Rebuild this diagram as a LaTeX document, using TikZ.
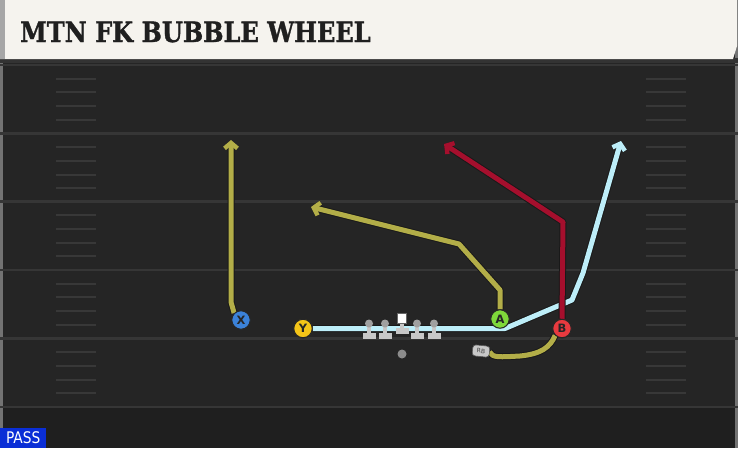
\documentclass[tikz,border=0pt]{standalone}
\usepackage{fontspec}
\setsansfont{DejaVu Sans}
\newfontfamily\titlefont{DejaVu Serif}[BoldFeatures={FakeBold=1.3}]
\usetikzlibrary{arrows.meta}
\definecolor{hdr}{HTML}{F5F3EE}
\definecolor{field}{HTML}{252525}
\definecolor{fieldlow}{HTML}{1F1F1F}
\definecolor{yardc}{HTML}{363636}
\definecolor{hashc}{HTML}{383838}
\definecolor{ryel}{HTML}{B3AE48}
\definecolor{rred}{HTML}{A50F2D}
\definecolor{rblue}{HTML}{BDEEF9}
\definecolor{pX}{HTML}{3B82D9}
\definecolor{pY}{HTML}{F5C518}
\definecolor{pA}{HTML}{7FD83A}
\definecolor{pB}{HTML}{E83A3F}
\definecolor{lineg}{HTML}{C8C8C8}
\definecolor{passb}{HTML}{0A2ED6}
\tikzset{
  yard/.style={draw=yardc, line width=2.2pt},
  hashm/.style={draw=hashc, line width=2pt},
  route/.style={line width=5pt, line join=round,
    preaction={draw=black!90, line width=7pt, line join=round}},
  tip/.style={-{Straight Barb[length=5.5pt,width=13pt,line width=4.4pt]}},
  player/.style={circle, draw=black!85, line width=1pt, minimum size=18.5pt, inner sep=0pt,
    font=\sffamily\bfseries\fontsize{11.5}{11.5}\selectfont, text=black!85},
  olm/.style={circle, fill=lineg!80!black, minimum size=8pt, inner sep=0pt},
  rbbox/.style={rounded corners=3pt, fill=lineg, draw=black!70, line width=0.5pt, minimum width=17pt, minimum height=11pt, inner sep=0pt, rotate=-6, font=\sffamily\fontsize{6}{6}\selectfont, text=black!75},
}
\begin{document}
\begin{tikzpicture}[x=1pt,y=-1pt]
\useasboundingbox (0,0) rectangle (738,448);
% field
\fill[field] (0,0) rectangle (738,448);
\fill[fieldlow] (0,407) rectangle (738,448);
\fill[black!55] (0,0) rectangle (3,448);
\fill[black!55] (735,0) rectangle (738,448);
% yard lines
\foreach \y in {65,133.5,201.5,270,338.5,407}
  \draw[yard] (0,\y) -- (738,\y);
% hash marks
\foreach \b in {65,133.5,201.5,270,338.5}{
  \foreach \k in {1,2,3,4}{
    \draw[hashm] (56,\b+13.7*\k) -- (96,\b+13.7*\k);
    \draw[hashm] (646,\b+13.7*\k) -- (686,\b+13.7*\k);
  }
}
% header
\fill[black!80] (0,58) rectangle (738,63);
\fill[hdr] (0,0) -- (737,0) -- (737,46) -- (733,59) -- (0,59) -- cycle;
\fill[black!35] (0,0) rectangle (5,59);
\node[anchor=west, inner sep=0pt, font=\titlefont\bfseries\fontsize{28}{28}\selectfont, text=black!88, xscale=0.86] (title) at (20,32) {MTN FK BUBBLE WHEEL};
% players (positions)
\node[player, fill=pX] (X) at (241,320) {X};
\node[player, fill=pY] (Y) at (303,328.5) {Y};
\node[player, fill=pA] (A) at (500,319) {A};
\node[player, fill=pB] (B) at (562,328.5) {B};
\node[rbbox] (RB) at (481,351) {RB};
\node[circle, fill=black!45, minimum size=9pt, inner sep=0pt] (QB) at (402,354) {};
% route end points
\coordinate (Xe) at (231,140);
\coordinate (Ye) at (621,141);
\coordinate (Ae) at (311,207);
\coordinate (Be) at (444,144);
% routes
\draw[route, draw=rblue, tip] (Y.east) -- (505,328.5) -- (572,300) -- (583,273) -- (Ye);
\draw[route, draw=ryel, tip] (X.north west) -- (231,302) -- (Xe);
\draw[route, draw=ryel, tip] (A.north) -- (500,290) -- (459,244) -- (Ae);
\draw[route, draw=rred, tip] (B.north) -- (563,222) -- (Be);
\draw[route, draw=ryel] (RB.east) .. controls (492,358) and (500,357) .. (520,356) .. controls (540,354) and (550,348) .. (B.south west);
% redraw players on top
\node[player, fill=pX] at (X) {X};
\node[player, fill=pY] at (Y) {Y};
\node[player, fill=pA] at (A) {A};
\node[player, fill=pB] at (B) {B};
\node[rbbox] at (RB) {RB};
% offensive line
\foreach \n/\x in {L1/369,L2/385,R1/417,R2/434}{
  \fill[lineg] (\x-2,326) rectangle (\x+2,333);
  \fill[lineg] (\x-6.5,333) rectangle (\x+6.5,338.5);
  \node[olm] (\n) at (\x,323.5) {};
}
\fill[lineg] (402-2,322) rectangle (402+2,329);
\fill[lineg] (402-6.5,328) rectangle (402+6.5,333.5);
\node[fill=white, draw=black!60, line width=0.4pt, minimum size=9.5pt, inner sep=0pt] (C) at (401.5,318) {};
% PASS label
\node[anchor=south west, fill=passb, minimum width=46pt, minimum height=20pt, inner sep=0pt, text=white, font=\sffamily\fontsize{16}{16}\selectfont] (pass) at (0,448) {\scalebox{0.86}[1]{PASS}};
\end{tikzpicture}
\end{document}
